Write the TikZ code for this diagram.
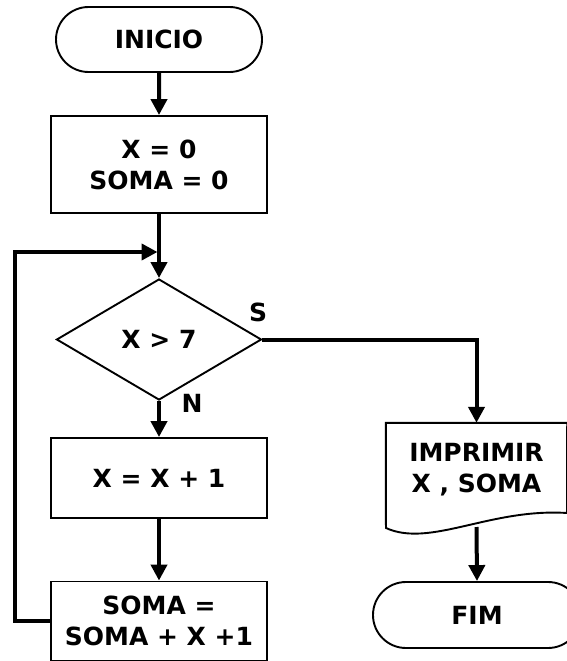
\documentclass[tikz,border=0pt]{standalone}
\usepackage{fontspec}
\setmainfont{DejaVu Sans}
\usetikzlibrary{shapes.geometric,shapes.misc,arrows.meta}
\begin{document}
\begin{tikzpicture}[x=1pt,y=-1pt,
  every node/.style={font=\fontsize{25}{31}\selectfont\bfseries, align=center, inner sep=0pt},
  shp/.style={draw, line width=1.9pt},
  term/.style={shp, rounded rectangle, minimum width=206pt, minimum height=65pt},
  proc/.style={shp, rectangle, minimum width=216pt},
  arr/.style={line width=4pt, -{Triangle[length=16pt,width=16pt]}},
  ln/.style={line width=4pt}]
\useasboundingbox (0,0) rectangle (567,661);
\node[term] (ini) at (159,39.5) {INICIO};
\node[proc, minimum height=97pt] (b1) at (159,164.5) {X = 0\\SOMA = 0};
\node[shp, diamond, minimum width=205pt, minimum height=121pt] (dia) at (159,339.5) {X > 7};
\node[proc, minimum height=80pt] (b2) at (159,478) {X = X + 1};
\node[proc, minimum height=79pt] (b3) at (159,621) {SOMA =\\SOMA + X +1};
\node[minimum width=181pt, minimum height=94pt] (doc) at (476.5,470) {IMPRIMIR\\X , SOMA};
\draw[shp] (doc.south west) -- (doc.north west) -- (doc.north east) -- (567,513)
  .. controls (490,508) and (430,548) .. (386,528) -- cycle;
\node[term, minimum width=208pt, minimum height=66pt] (fim) at (477,615) {FIM};
\node (s) at (258,312) {S};
\node (n) at (192,403) {N};
\coordinate (docb) at (476.5,527);
\coordinate (lp) at (15,252);
\coordinate (mj) at (157.5,252);
\draw[arr] (ini) -- (b1);
\draw[arr] (b1) -- (dia);
\draw[arr] (dia) -- (b2);
\draw[arr] (b2) -- (b3);
\draw[arr] (dia.east) -| (doc.north);
\draw[arr] (docb) -- (fim.north);
\draw[arr] (b3.west) -| (lp) -- (mj);
\end{tikzpicture}
\end{document}
